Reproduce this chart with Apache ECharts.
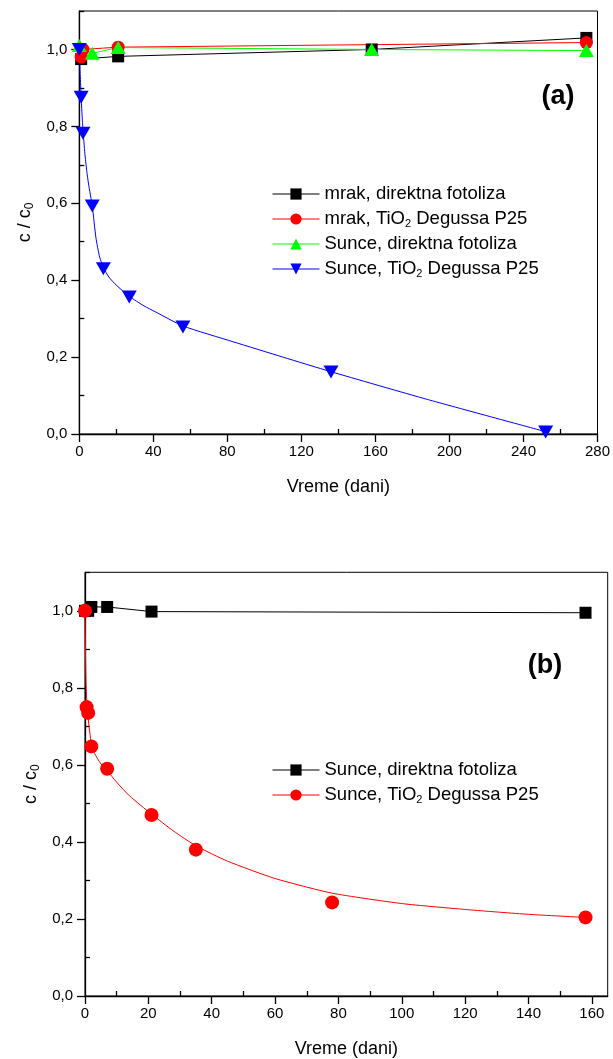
<!DOCTYPE html>
<html><head><meta charset="utf-8">
<script src="https://cdn.jsdelivr.net/npm/echarts@6/dist/echarts.min.js"></script>
<style>html,body{margin:0;padding:0;background:#fff}#c{width:613px;height:1059px}</style>
</head><body><div id="c"></div>
<script>
// ---------- Panel (a) data ----------
const aNames = ['mrak, direktna fotoliza', 'mrak, TiO2 Degussa P25', 'Sunce, direktna fotoliza', 'Sunce, TiO2 Degussa P25'];
const aBlackX = [1, 21, 158, 274];
const aBlackY = [0.975, 0.982, 1.0, 1.03];
const aRedX = [1, 2, 21, 274];
const aRedY = [0.98, 1.0, 1.006, 1.018];
const aGreenX = [0, 7, 21, 158, 274];
const aGreenY = [1.01, 0.99, 1.005, 1.0, 0.997];
const aBlueX = [0, 1, 2, 7, 13, 27, 56, 136, 252];
const aBlueY = [1.0, 0.876, 0.782, 0.593, 0.43, 0.356, 0.278, 0.161, 0.005];
// fitted curve of the blue series
const aBlueFitX = [0, 0.5, 1, 1.5, 2, 3, 4, 5, 7, 9, 11, 13, 16, 20, 27, 35, 41, 56, 83, 110, 136, 188, 252];
const aBlueFitY = [1.0, 0.935, 0.876, 0.83, 0.79, 0.73, 0.685, 0.65, 0.593, 0.51, 0.46, 0.433, 0.408, 0.387, 0.358, 0.333, 0.318, 0.281, 0.24, 0.2, 0.162, 0.09, 0.006];
const aXTicks = [0, 40, 80, 120, 160, 200, 240, 280];
const aXMinor = [20, 60, 100, 140, 180, 220, 260];
// ---------- Panel (b) data ----------
const bNames = ['Sunce, direktna fotoliza\u200b', 'Sunce, TiO2 Degussa P25\u200b'];
const bBlackX = [0, 1, 2, 7, 21, 158];
const bBlackY = [1.0, 1.0, 1.01, 1.01, 0.998, 0.995];
const bRedX = [0, 0.5, 1, 2, 7, 21, 35, 78, 158];
const bRedY = [1.0, 0.75, 0.735, 0.648, 0.59, 0.47, 0.38, 0.243, 0.204];
// fitted curve of the red series
const bRedFitX = [0, 0.3, 0.6, 1, 2, 3, 5, 7, 10, 14, 21, 28, 35, 45, 60, 78, 100, 121, 140, 158];
const bRedFitY = [1.0, 0.82, 0.76, 0.72, 0.655, 0.63, 0.603, 0.585, 0.555, 0.52, 0.472, 0.428, 0.39, 0.35, 0.305, 0.267, 0.24, 0.224, 0.212, 0.204];
const bXTicks = [0, 20, 40, 60, 80, 100, 120, 140, 160];
const bXMinor = [10, 30, 50, 70, 90, 110, 130, 150];
// ---------- shared ----------
const yTicks = [0, 0.2, 0.4, 0.6, 0.8, 1.0];
const yMinor = [0.1, 0.3, 0.5, 0.7, 0.9, 1.1];
const xName = 'Vreme (dani)';
const yName = 'c / c{s|0}';

const FONT = '"Liberation Sans", Arial, sans-serif';
const pts = (xs, ys) => xs.map((x, i) => [x, ys[i]]);
const downTri = 'path://M0,0 L10,0 L5,9 Z';
const axLine = {show: true, onZero: false, lineStyle: {color: '#000', width: 1.3}};
const richSub = {s: {fontSize: 11, fontFamily: FONT, color: '#000', padding: [9, 0, 0, 0]}};

function mainX(grid, min, max, ticks) {
  return {type: 'value', gridIndex: grid, min, max, name: xName, nameLocation: 'middle', nameGap: 44,
    nameTextStyle: {fontFamily: FONT, fontSize: 18, color: '#000'},
    axisLine: axLine, splitLine: {show: false},
    axisTick: {show: true, customValues: ticks, length: 8, lineStyle: {color: '#000', width: 1.3}},
    axisLabel: {show: true, customValues: ticks, margin: 10, fontFamily: FONT, fontSize: 15, color: '#000'}};
}
function minorX(grid, min, max, ticks) {
  return {type: 'value', gridIndex: grid, min, max, axisLine: {show: false}, splitLine: {show: false},
    axisTick: {show: true, customValues: ticks, length: 5, lineStyle: {color: '#000', width: 1.3}},
    axisLabel: {show: false}};
}
function mainY(grid) {
  return {type: 'value', gridIndex: grid, min: 0, max: 1.1, name: yName, nameLocation: 'middle', nameGap: 42,
    nameTextStyle: {fontFamily: FONT, fontSize: 18, color: '#000', rich: {s: {fontSize: 12, fontFamily: FONT, color: '#000', padding: [9, 0, 0, 0]}}},
    axisLine: axLine, splitLine: {show: false},
    axisTick: {show: true, customValues: yTicks, length: 8, lineStyle: {color: '#000', width: 1.3}},
    axisLabel: {show: true, customValues: yTicks, margin: 12, fontFamily: FONT, fontSize: 15, color: '#000',
      formatter: v => v.toFixed(1).replace('.', ',')}};
}
function minorY(grid) {
  return {type: 'value', gridIndex: grid, min: 0, max: 1.1, axisLine: {show: false}, splitLine: {show: false},
    axisTick: {show: true, customValues: yMinor, length: 5, lineStyle: {color: '#000', width: 1.3}},
    axisLabel: {show: false}};
}
function legendFmt(n) { return n.replace('\u200b', '').replace('TiO2', 'TiO{s|2}'); }
function legend(names, top) {
  return {data: names, orient: 'vertical', left: 267, top, itemWidth: 47, itemHeight: 14, itemGap: 4,
    selectedMode: false, formatter: legendFmt,
    lineStyle: {opacity: 1, width: 1},
    textStyle: {fontFamily: FONT, fontSize: 18.5, color: '#000', lineHeight: 21, rich: richSub}};
}
function ser(name, x, y, xs, ys, color, symbol, size, extra) {
  return Object.assign({type: 'line', name, xAxisIndex: x, yAxisIndex: y, data: pts(xs, ys),
    symbol, symbolSize: size, showAllSymbol: true, animation: false,
    lineStyle: {color, width: 1}, itemStyle: {color}}, extra || {});
}
const noLine = c => ({lineStyle: {color: c, width: 1, opacity: 0}});

const chart = echarts.init(document.getElementById('c'), null, {renderer: 'canvas'});
chart.setOption({
  backgroundColor: '#fff',
  animation: false,
  grid: [
    {left: 79.3, right: 12.3, top: 11, bottom: 625, show: true, borderColor: '#000', borderWidth: 1, backgroundColor: 'transparent'},
    {left: 85, right: 5.3, top: 572.3, bottom: 62.3, show: true, borderColor: '#000', borderWidth: 1, backgroundColor: 'transparent'}
  ],
  xAxis: [mainX(0, 0, 280, aXTicks), minorX(0, 0, 280, aXMinor), mainX(1, 0, 165, bXTicks), minorX(1, 0, 165, bXMinor)],
  yAxis: [mainY(0), minorY(0), mainY(1), minorY(1)],
  legend: [legend(aNames, 178.5), legend(bNames, 754.5)],
  series: [
    ser(aNames[0], 0, 0, aBlackX, aBlackY, '#000000', 'rect', 12),
    ser(aNames[1], 0, 0, aRedX, aRedY, '#ff0000', 'circle', 13),
    ser(aNames[2], 0, 0, aGreenX, aGreenY, '#00ff00', 'triangle', [15, 13]),
    ser('fit a', 0, 0, aBlueFitX, aBlueFitY, '#0000ff', 'none', 0, {smooth: 0.2}),
    ser(aNames[3], 0, 0, aBlueX, aBlueY, '#0000ff', downTri, [15, 13], noLine('#0000ff')),
    ser(bNames[0], 2, 2, bBlackX, bBlackY, '#000000', 'rect', 12),
    ser('fit b', 2, 2, bRedFitX, bRedFitY, '#ff0000', 'none', 0, {smooth: 0.2}),
    ser(bNames[1], 2, 2, bRedX, bRedY, '#ff0000', 'circle', 14, noLine('#ff0000'))
  ],
  graphic: [
    {type: 'text', x: 558, y: 97, style: {text: '(a)', font: 'bold 27px ' + FONT, fill: '#000', align: 'center', verticalAlign: 'middle'}},
    {type: 'text', x: 545, y: 666, style: {text: '(b)', font: 'bold 27px ' + FONT, fill: '#000', align: 'center', verticalAlign: 'middle'}}
  ]
});
</script></body></html>
